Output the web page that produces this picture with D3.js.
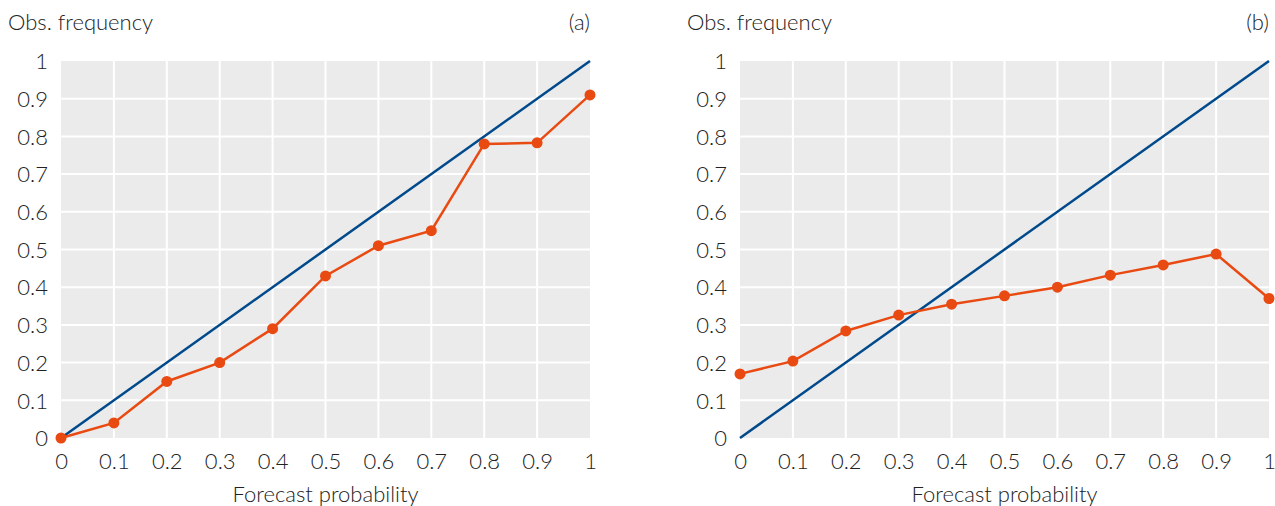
<!DOCTYPE html>
<html>
<head>
<meta charset="utf-8">
<script src="https://cdn.jsdelivr.net/npm/d3@7.9.0/dist/d3.min.js"></script>
<style>
  body { margin: 0; background: #fff; }
  svg text { font-family: Lato, "Open Sans", sans-serif; font-weight: 300; fill: #222; }
</style>
</head>
<body>
<svg id="chart" width="1275" height="506"></svg>
<script>
// forecast probability bins
const probs = [0, 0.1, 0.2, 0.3, 0.4, 0.5, 0.6, 0.7, 0.8, 0.9, 1];
// observed frequency, panel (a)
const obsA = [0, 0.04, 0.15, 0.2, 0.29, 0.43, 0.51, 0.55, 0.78, 0.783, 0.91];
// observed frequency, panel (b)
const obsB = [0.17, 0.204, 0.284, 0.326, 0.355, 0.377, 0.40, 0.432, 0.459, 0.488, 0.37];
const ticks = [0, 0.1, 0.2, 0.3, 0.4, 0.5, 0.6, 0.7, 0.8, 0.9, 1];
const panels = [
  { tag: '(a)', values: obsA, left: 61 },
  { tag: '(b)', values: obsB, left: 740 }
];

const svg = d3.select('#chart');
const plotW = 529, plotTop = 61, plotBottom = 438;
const fmt = d => String(d);

panels.forEach(p => {
  const x = d3.scaleLinear().domain([0, 1]).range([p.left, p.left + plotW]);
  const y = d3.scaleLinear().domain([0, 1]).range([plotBottom, plotTop]);
  const g = svg.append('g');

  g.append('rect')
    .attr('x', x(0)).attr('y', y(1))
    .attr('width', plotW).attr('height', plotBottom - plotTop)
    .attr('fill', '#ebebeb');

  // grid
  g.append('g').selectAll('line').data(ticks.slice(1, -1)).join('line')
    .attr('x1', d => x(d)).attr('x2', d => x(d))
    .attr('y1', y(0)).attr('y2', y(1))
    .attr('stroke', '#fff').attr('stroke-width', 2);
  g.append('g').selectAll('line').data(ticks.slice(1, -1)).join('line')
    .attr('y1', d => y(d)).attr('y2', d => y(d))
    .attr('x1', x(0)).attr('x2', x(1))
    .attr('stroke', '#fff').attr('stroke-width', 2);

  // axes tick labels
  const yAxis = g.append('g')
    .attr('transform', `translate(${p.left - 13},0)`)
    .call(d3.axisLeft(y).tickValues(ticks).tickFormat(fmt).tickSize(0).tickPadding(0));
  yAxis.select('.domain').remove();
  yAxis.selectAll('text').attr('font-size', 22).attr('dy', '0.35em')
    .style('font-family', 'Lato, sans-serif').style('font-weight', 300).attr('fill', '#222');

  const xAxis = g.append('g')
    .attr('transform', `translate(0,${plotBottom + 15})`)
    .call(d3.axisBottom(x).tickValues(ticks).tickFormat(fmt).tickSize(0).tickPadding(0));
  xAxis.select('.domain').remove();
  xAxis.selectAll('text').attr('font-size', 22).attr('dy', '0.71em')
    .style('font-family', 'Lato, sans-serif').style('font-weight', 300).attr('fill', '#222');

  // titles
  g.append('text').attr('x', p.left - 53).attr('y', 30)
    .attr('font-size', 22).text('Obs. frequency');
  g.append('text').attr('x', x(1)).attr('y', 30)
    .attr('text-anchor', 'end').attr('font-size', 22).text(p.tag);
  g.append('text').attr('x', x(0.5)).attr('y', 502)
    .attr('text-anchor', 'middle').attr('font-size', 22).text('Forecast probability');

  // diagonal
  g.append('line')
    .attr('x1', x(0)).attr('y1', y(0)).attr('x2', x(1)).attr('y2', y(1))
    .attr('stroke', '#004a8c').attr('stroke-width', 2.5);

  const pts = probs.map((d, i) => [d, p.values[i]]);
  g.append('path')
    .datum(pts)
    .attr('d', d3.line().x(d => x(d[0])).y(d => y(d[1])))
    .attr('fill', 'none').attr('stroke', '#e84a12').attr('stroke-width', 2.5);
  g.append('g').selectAll('circle').data(pts).join('circle')
    .attr('cx', d => x(d[0])).attr('cy', d => y(d[1]))
    .attr('r', 5.5).attr('fill', '#e84a12');
});
</script>
</body>
</html>
